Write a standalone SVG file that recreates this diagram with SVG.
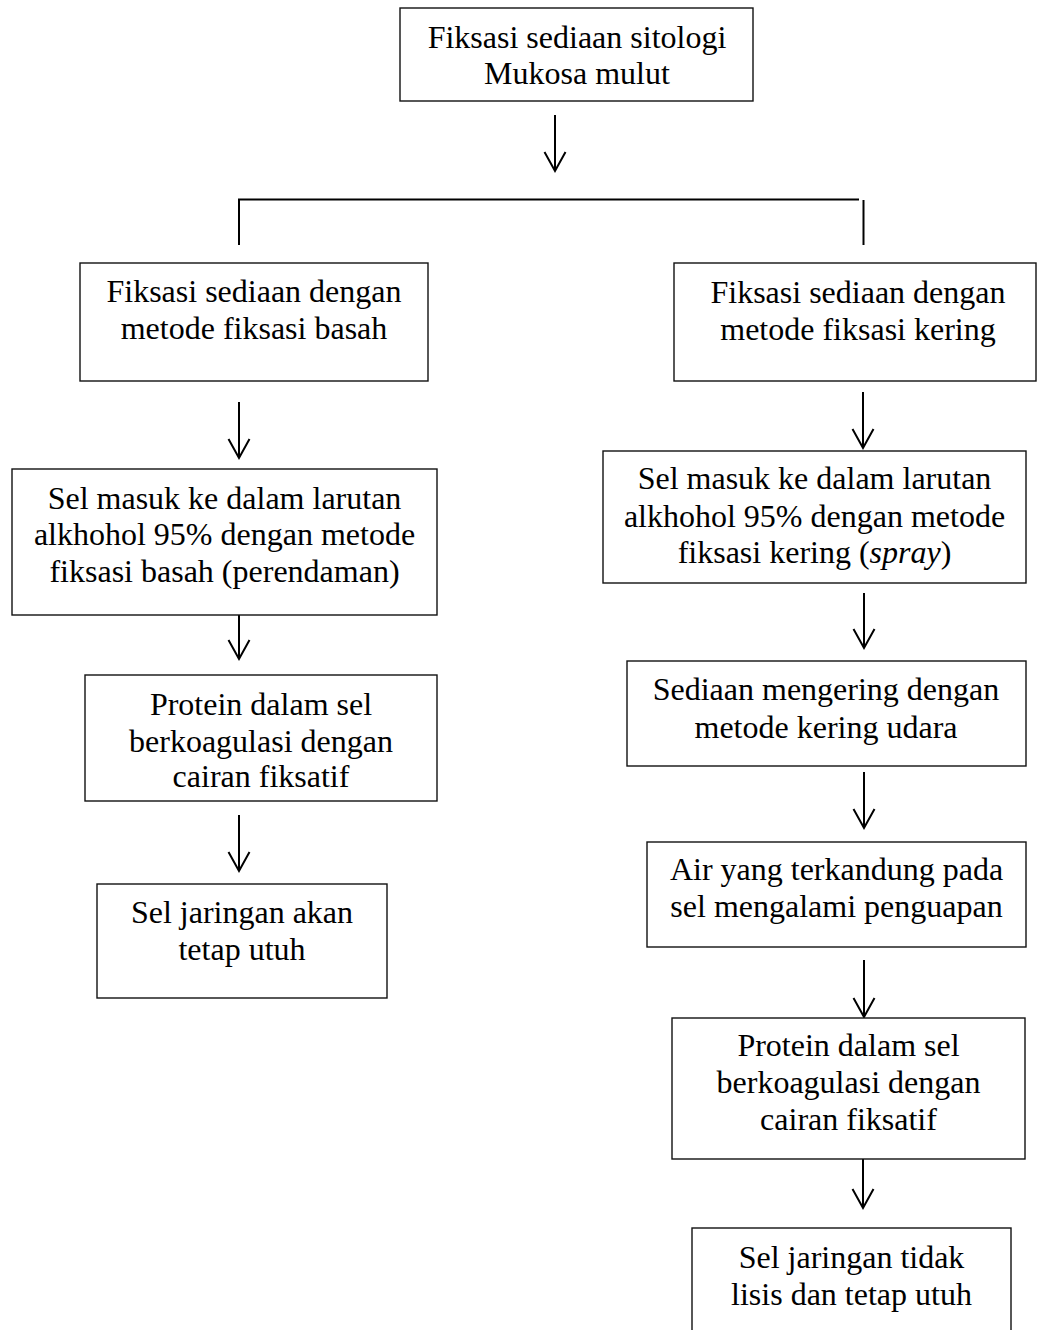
<svg xmlns="http://www.w3.org/2000/svg" width="1037" height="1330" viewBox="0 0 1037 1330">
<style>
.box{fill:#fff;stroke:#111;stroke-width:1.4}
.t{font-family:"Liberation Serif","Times New Roman",serif;font-size:32px;fill:#000;text-anchor:middle}
.ln{fill:none;stroke:#000;stroke-width:2}
</style>
<defs>
<marker id="ah" markerUnits="userSpaceOnUse" markerWidth="24" markerHeight="26" viewBox="0 0 24 26" refX="21" refY="12" orient="auto">
<path d="M2,1.5 L21,12 L2,22.5" fill="none" stroke="#000" stroke-width="2"/>
</marker>
</defs>
<rect width="1037" height="1330" fill="#fff"/>
<g id="connectors">
<line class="ln" x1="555" y1="115" x2="555" y2="171" marker-end="url(#ah)"/>
<polyline class="ln" points="239,245 239,199.5 859,199.5"/>
<line class="ln" x1="863.5" y1="200" x2="863.5" y2="245"/>
<line class="ln" x1="239" y1="402" x2="239" y2="458" marker-end="url(#ah)"/>
<line class="ln" x1="239" y1="615" x2="239" y2="659" marker-end="url(#ah)"/>
<line class="ln" x1="239" y1="815" x2="239" y2="871" marker-end="url(#ah)"/>
<line class="ln" x1="863" y1="392" x2="863" y2="448" marker-end="url(#ah)"/>
<line class="ln" x1="864" y1="593" x2="864" y2="648" marker-end="url(#ah)"/>
<line class="ln" x1="864" y1="772" x2="864" y2="828" marker-end="url(#ah)"/>
<line class="ln" x1="864" y1="960" x2="864" y2="1017" marker-end="url(#ah)"/>
<line class="ln" x1="863" y1="1159" x2="863" y2="1208" marker-end="url(#ah)"/>
</g>
<g id="n-top">
<rect class="box" x="400" y="8" width="353" height="93"/>
<text class="t" x="577" y="48">Fiksasi sediaan sitologi</text>
<text class="t" x="577" y="84">Mukosa mulut</text>
</g>
<g id="n-basah">
<rect class="box" x="80" y="263" width="348" height="118"/>
<text class="t" x="254" y="302">Fiksasi sediaan dengan</text>
<text class="t" x="254" y="339">metode fiksasi basah</text>
</g>
<g id="n-basah-2">
<rect class="box" x="12" y="469" width="425" height="146"/>
<text class="t" x="224.5" y="509">Sel masuk ke dalam larutan</text>
<text class="t" x="224.5" y="545">alkhohol 95% dengan metode</text>
<text class="t" x="224.5" y="582">fiksasi basah (perendaman)</text>
</g>
<g id="n-basah-3">
<rect class="box" x="85" y="675" width="352" height="126"/>
<text class="t" x="261" y="715">Protein dalam sel</text>
<text class="t" x="261" y="752">berkoagulasi dengan</text>
<text class="t" x="261" y="787">cairan fiksatif</text>
</g>
<g id="n-basah-4">
<rect class="box" x="97" y="884" width="290" height="114"/>
<text class="t" x="242" y="923">Sel jaringan akan</text>
<text class="t" x="242" y="960">tetap utuh</text>
</g>
<g id="n-kering">
<rect class="box" x="674" y="263" width="362" height="118"/>
<text class="t" x="858" y="303">Fiksasi sediaan dengan</text>
<text class="t" x="858" y="340">metode fiksasi kering</text>
</g>
<g id="n-kering-2">
<rect class="box" x="603" y="451" width="423" height="132"/>
<text class="t" x="814.5" y="489">Sel masuk ke dalam larutan</text>
<text class="t" x="814.5" y="527">alkhohol 95% dengan metode</text>
<text class="t" x="814.5" y="563">fiksasi kering (<tspan font-style="italic">spray</tspan>)</text>
</g>
<g id="n-kering-3">
<rect class="box" x="627" y="661" width="399" height="105"/>
<text class="t" x="826" y="700">Sediaan mengering dengan</text>
<text class="t" x="826" y="738">metode kering udara</text>
</g>
<g id="n-kering-4">
<rect class="box" x="647" y="842" width="379" height="105"/>
<text class="t" x="836.5" y="880">Air yang terkandung pada</text>
<text class="t" x="836.5" y="917">sel mengalami penguapan</text>
</g>
<g id="n-kering-5">
<rect class="box" x="672" y="1018" width="353" height="141"/>
<text class="t" x="848.5" y="1056">Protein dalam sel</text>
<text class="t" x="848.5" y="1093">berkoagulasi dengan</text>
<text class="t" x="848.5" y="1130">cairan fiksatif</text>
</g>
<g id="n-kering-6">
<rect class="box" x="692" y="1228" width="319" height="120"/>
<text class="t" x="851.5" y="1268">Sel jaringan tidak</text>
<text class="t" x="851.5" y="1305">lisis dan tetap utuh</text>
</g>
</svg>
